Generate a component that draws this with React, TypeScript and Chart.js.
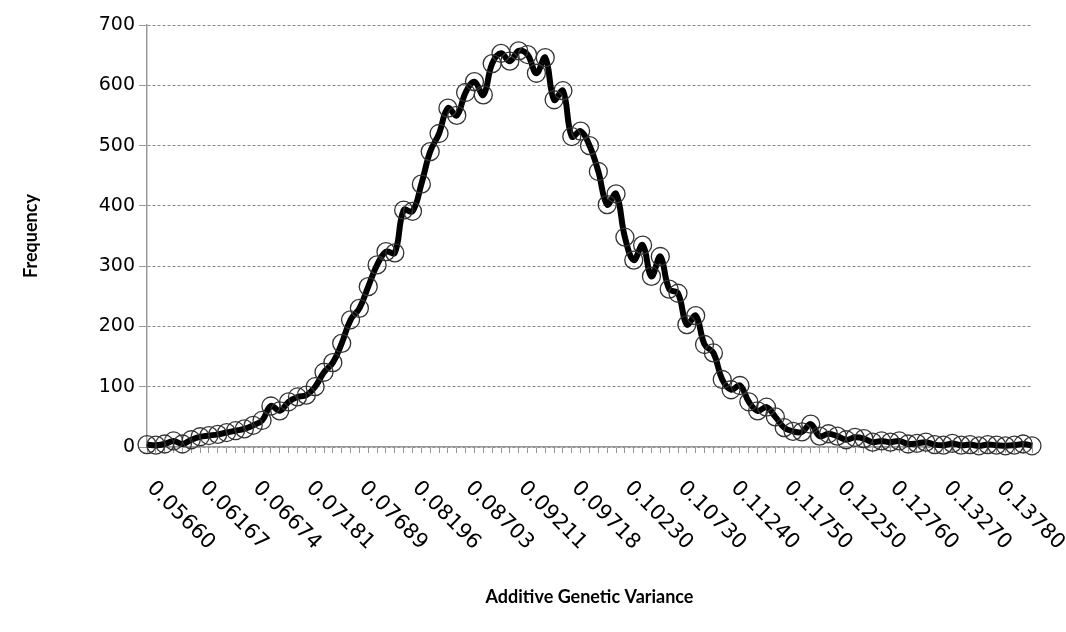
import React, { useEffect, useRef } from "react";
import { Chart, registerables } from "chart.js";

Chart.register(...registerables);

// Tick labels shown every LABEL_EVERY categories along the x axis
const TICK_LABELS = [
  "0.05660", "0.06167", "0.06674", "0.07181", "0.07689", "0.08196",
  "0.08703", "0.09211", "0.09718", "0.10230", "0.10730", "0.11240",
  "0.11750", "0.12250", "0.12760", "0.13270", "0.13780",
];
const LABEL_EVERY = 6;

// Frequency per category (101 bins)
const FREQUENCY = [
  4, 3, 5, 10, 5, 12, 17, 19, 21, 24,
  27, 30, 36, 44, 68, 60, 75, 83, 86, 100,
  124, 140, 172, 211, 230, 266, 302, 324, 322, 393,
  391, 436, 490, 520, 562, 550, 588, 606, 584, 636,
  653, 640, 657, 651, 620, 646, 576, 591, 515, 524,
  500, 457, 402, 420, 348, 310, 335, 283, 316, 262,
  255, 203, 218, 170, 156, 112, 95, 102, 75, 60,
  66, 50, 32, 26, 25, 38, 18, 22, 18, 12,
  16, 14, 8, 10, 8, 10, 5, 6, 8, 4,
  3, 6, 3, 4, 2, 4, 3, 2, 3, 5,
  2,
];

const Y_MIN = 0;
const Y_MAX = 700;
const Y_STEP = 100;

const X_TITLE = "Additive Genetic Variance";
const Y_TITLE = "Frequency";

const rotatedXLabels = {
  id: "rotatedXLabels",
  afterDraw(chart: any) {
    const xs = chart.scales.x;
    const ctx = chart.ctx;
    ctx.save();
    ctx.font = '21px "DejaVu Sans"';
    ctx.fillStyle = "#000";
    ctx.textAlign = "left";
    ctx.textBaseline = "middle";
    TICK_LABELS.forEach((lab, k) => {
      const x = xs.getPixelForValue(k * LABEL_EVERY);
      ctx.save();
      ctx.translate(x + 3, xs.top + 38);
      ctx.rotate(Math.PI / 4);
      ctx.fillText(lab, 0, 0);
      ctx.restore();
    });
    ctx.restore();
  },
};

export default function App() {
  const ref = useRef<HTMLCanvasElement | null>(null);

  useEffect(() => {
    if (!ref.current) return;
    const labels = FREQUENCY.map((_, i) =>
      i % LABEL_EVERY === 0 ? TICK_LABELS[i / LABEL_EVERY] ?? "" : ""
    );
    const chart = new Chart(ref.current, {
      type: "line",
      data: {
        labels,
        datasets: [
          {
            data: FREQUENCY,
            borderColor: "#000",
            borderWidth: 6,
            tension: 0.4,
            pointRadius: 9,
            pointBorderWidth: 1.3,
            pointBorderColor: "#333",
            pointBackgroundColor: "rgba(0,0,0,0)",
            clip: false as any,
          },
        ],
      },
      options: {
        responsive: false,
        animation: false,
        events: [],
        layout: { padding: { top: 25, right: 34, bottom: 0, left: 0 } },
        plugins: { legend: { display: false }, tooltip: { enabled: false } },
        scales: {
          x: {
            type: "category",
            offset: false,
            grid: {
              display: true,
              drawOnChartArea: false,
              drawTicks: true,
              tickLength: 6,
              color: "#999",
              offset: false,
            },
            border: { display: true, color: "#999", width: 1.5 },
            ticks: { display: false, autoSkip: false },
            title: {
              display: true,
              text: X_TITLE,
              color: "#000",
              font: { family: "Lato", weight: "bold", size: 18 },
              padding: { top: 0, bottom: 24 },
            },
            afterFit: (s: any) => {
              s.height = 185;
            },
          },
          y: {
            min: Y_MIN,
            max: Y_MAX,
            grid: {
              color: "#888",
              drawTicks: true,
              tickLength: 8,
              tickColor: "#999",
            },
            border: { display: true, color: "#999", width: 1.5, dash: [3, 2] },
            ticks: {
              stepSize: Y_STEP,
              color: "#000",
              padding: 4,
              font: { family: "DejaVu Sans", size: 19 },
            },
            title: {
              display: true,
              text: Y_TITLE,
              color: "#000",
              font: { family: "Lato", weight: "bold", size: 18 },
              padding: { top: 20, bottom: 0 },
            },
            afterFit: (s: any) => {
              s.width = 147;
            },
          },
        },
      },
      plugins: [rotatedXLabels],
    });
    return () => chart.destroy();
  }, []);

  return (
    <div style={{ position: "fixed", left: 0, top: 0, width: 1066, height: 632, background: "#fff" }}>
      <canvas ref={ref} width={1066} height={632} />
    </div>
  );
}
